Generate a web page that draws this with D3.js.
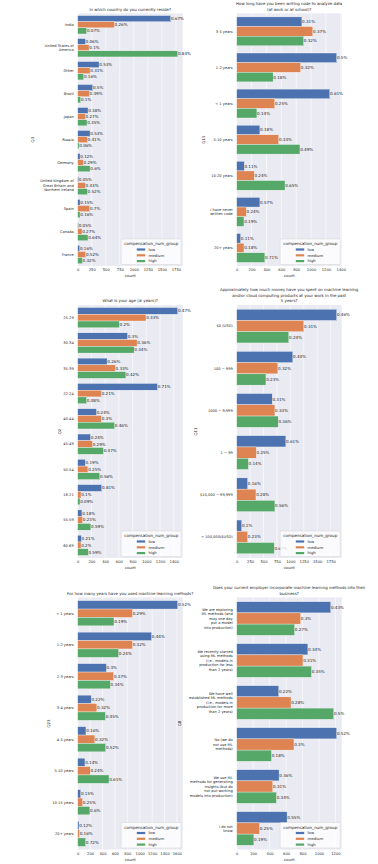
<!DOCTYPE html>
<html><head><meta charset="utf-8">
<script src="https://cdn.jsdelivr.net/npm/d3@7"></script>
<style>
body{margin:0;background:#fff}
svg{display:block}
text{font-family:"DejaVu Sans",sans-serif;fill:#262626}
</style>
</head><body><svg id="c" width="378" height="864"></svg>
<script>
// ---------- data ----------
const hues = ["low", "medium", "high"];
const hueColors = ["#4C72B0", "#DD8452", "#55A868"];

const q3Categories = ["India", "United States of\nAmerica", "Other", "Brazil", "Japan", "Russia", "Germany",
  "United Kingdom of\nGreat Britain and\nNorthern Ireland", "Spain", "Canada", "France"];
const q3Low = [1657, 137, 380, 267, 184, 220, 42, 16, 42, 14, 36];
const q3Medium = [653, 202, 220, 208, 137, 172, 101, 137, 214, 77, 143];
const q3High = [160, 1781, 107, 53, 166, 24, 220, 172, 42, 183, 83];
const q3LowPct = ["0.67%", "0.06%", "0.53%", "0.5%", "0.38%", "0.53%", "0.12%", "0.05%", "0.15%", "0.05%", "0.16%"];
const q3MediumPct = ["0.26%", "0.1%", "0.31%", "0.39%", "0.27%", "0.41%", "0.29%", "0.43%", "0.7%", "0.27%", "0.52%"];
const q3HighPct = ["0.07%", "0.84%", "0.16%", "0.1%", "0.35%", "0.06%", "0.6%", "0.52%", "0.16%", "0.64%", "0.32%"];
const q3Ticks = [0, 250, 500, 750, 1000, 1250, 1500, 1750];

const q15Categories = ["3-5 years", "1-2 years", "< 1 years", "5-10 years", "10-20 years", "I have never\nwritten code", "20+ years"];
const q15Low = [877, 1345, 1252, 312, 102, 312, 53];
const q15Medium = [1024, 860, 512, 566, 236, 129, 98];
const q15High = [900, 490, 272, 851, 650, 98, 379];
const q15LowPct = ["0.31%", "0.5%", "0.61%", "0.18%", "0.11%", "0.57%", "0.11%"];
const q15MediumPct = ["0.37%", "0.32%", "0.25%", "0.33%", "0.24%", "0.24%", "0.18%"];
const q15HighPct = ["0.32%", "0.18%", "0.14%", "0.49%", "0.65%", "0.19%", "0.71%"];
const q15Ticks = [0, 200, 400, 600, 800, 1000, 1200, 1400];

const q2Categories = ["25-29", "30-34", "35-39", "22-24", "40-44", "45-49", "50-54", "18-21", "55-59", "60-69"];
const q2Low = [1457, 726, 428, 1163, 274, 187, 111, 351, 62, 53];
const q2Medium = [995, 865, 548, 346, 346, 216, 149, 48, 72, 48];
const q2High = [606, 822, 702, 130, 538, 375, 322, 34, 192, 154];
const q2LowPct = ["0.47%", "0.3%", "0.26%", "0.71%", "0.24%", "0.24%", "0.19%", "0.81%", "0.18%", "0.21%"];
const q2MediumPct = ["0.33%", "0.36%", "0.33%", "0.21%", "0.3%", "0.29%", "0.25%", "0.1%", "0.23%", "0.2%"];
const q2HighPct = ["0.2%", "0.34%", "0.42%", "0.08%", "0.46%", "0.47%", "0.56%", "0.09%", "0.59%", "0.59%"];
const q2Ticks = [0, 200, 400, 600, 800, 1000, 1200, 1400];

const q11Categories = ["$0 (USD)", "100 − 999", "1000 − 9,999", "1 − 99", "$10,000 − 99,999", "> 100,000($USD)"];
const q11Low = [1863, 1046, 662, 916, 204, 93];
const q11Medium = [1250, 767, 712, 365, 359, 204];
const q11High = [971, 545, 773, 217, 712, 699];
const q11LowPct = ["0.46%", "0.44%", "0.31%", "0.61%", "0.16%", "0.1%"];
const q11MediumPct = ["0.31%", "0.32%", "0.33%", "0.25%", "0.28%", "0.23%"];
const q11HighPct = ["0.24%", "0.23%", "0.36%", "0.14%", "0.56%", "0.67%"];
const q11Ticks = [0, 250, 500, 750, 1000, 1250, 1500, 1750];

const q23Categories = ["< 1 years", "1-2 years", "2-3 years", "3-4 years", "4-5 years", "5-10 years", "10-15 years", "20+ years"];
const q23Low = [1612, 1191, 463, 218, 133, 117, 48, 21];
const q23Medium = [883, 883, 580, 309, 277, 202, 80, 28];
const q23High = [585, 660, 527, 447, 452, 505, 197, 128];
const q23LowPct = ["0.52%", "0.44%", "0.3%", "0.22%", "0.16%", "0.14%", "0.15%", "0.12%"];
const q23MediumPct = ["0.29%", "0.32%", "0.37%", "0.32%", "0.32%", "0.24%", "0.25%", "0.16%"];
const q23HighPct = ["0.19%", "0.24%", "0.34%", "0.45%", "0.52%", "0.61%", "0.6%", "0.72%"];
const q23Ticks = [0, 200, 400, 600, 800, 1000, 1200, 1400, 1600];

const q8Categories = [
  "We are exploring\nML methods (and\nmay one day\nput a model\ninto production)",
  "We recently started\nusing ML methods\n(i.e., models in\nproduction for less\nthan 2 years)",
  "We have well\nestablished ML methods\n(i.e., models in\nproduction for more\nthan 2 years)",
  "No (we do\nnot use ML\nmethods)",
  "We use ML\nmethods for generating\ninsights (but do\nnot put working\nmodels into production)",
  "I do not\nknow"];
const q8Low = [1143, 865, 511, 1215, 515, 612];
const q8Medium = [777, 805, 660, 696, 439, 278];
const q8High = [704, 909, 1179, 423, 483, 209];
const q8LowPct = ["0.43%", "0.34%", "0.22%", "0.52%", "0.36%", "0.55%"];
const q8MediumPct = ["0.3%", "0.31%", "0.28%", "0.3%", "0.31%", "0.25%"];
const q8HighPct = ["0.27%", "0.35%", "0.5%", "0.18%", "0.34%", "0.19%"];
const q8Ticks = [0, 200, 400, 600, 800, 1000, 1200];

// ---------- layout ----------
const cols = [[77.7, 182.7], [236.7, 341.7]];
const rows = [[13.3, 266], [305, 558], [597.5, 849.5]];

const panels = [
  {cats: q3Categories, vals: [q3Low, q3Medium, q3High], pct: [q3LowPct, q3MediumPct, q3HighPct], ticks: q3Ticks,
   title: ["In which country do you currently reside?"], ylabel: "Q3", col: 0, row: 0, ylabX: 32.3},
  {cats: q15Categories, vals: [q15Low, q15Medium, q15High], pct: [q15LowPct, q15MediumPct, q15HighPct], ticks: q15Ticks,
   title: ["How long have you been writing code to analyze data", "(at work or at school)?"], ylabel: "Q15", col: 1, row: 0, ylabX: 204},
  {cats: q2Categories, vals: [q2Low, q2Medium, q2High], pct: [q2LowPct, q2MediumPct, q2HighPct], ticks: q2Ticks,
   title: ["What is your age (# years)?"], ylabel: "Q2", col: 0, row: 1, ylabX: 60},
  {cats: q11Categories, vals: [q11Low, q11Medium, q11High], pct: [q11LowPct, q11MediumPct, q11HighPct], ticks: q11Ticks,
   title: ["Approximately how much money have you spent on machine learning", "and/or cloud computing products at your work in the past", "5 years?"], ylabel: "Q11", col: 1, row: 1, ylabX: 196},
  {cats: q23Categories, vals: [q23Low, q23Medium, q23High], pct: [q23LowPct, q23MediumPct, q23HighPct], ticks: q23Ticks,
   title: ["For how many years have you used machine learning methods?"], ylabel: "Q23", col: 0, row: 2, ylabX: 48.3},
  {cats: q8Categories, vals: [q8Low, q8Medium, q8High], pct: [q8LowPct, q8MediumPct, q8HighPct], ticks: q8Ticks,
   title: ["Does your current employer incorporate machine learning methods into their", "business?"], ylabel: "Q8", col: 1, row: 2, ylabX: 180}
];

const svg = d3.select("#c");
const gPlots = svg.append("g");
const gText = svg.append("g");

panels.forEach(p => {
  const [x0, x1] = cols[p.col];
  const [y0, y1] = rows[p.row];
  const maxV = d3.max(p.vals.flat());
  const x = d3.scaleLinear().domain([0, maxV * 1.05]).range([x0, x1]);
  const y = d3.scaleBand().domain(p.cats).range([y0, y1]).paddingInner(0).paddingOuter(0);
  const yh = d3.scaleBand().domain(hues).range([0.1 * y.bandwidth(), 0.9 * y.bandwidth()]);

  const g = gPlots.append("g");
  g.append("rect").attr("x", x0).attr("y", y0).attr("width", x1 - x0).attr("height", y1 - y0).attr("fill", "#EAEAF2");
  g.selectAll("line.grid").data(p.ticks).join("line").attr("class", "grid")
    .attr("x1", d => x(d)).attr("x2", d => x(d)).attr("y1", y0).attr("y2", y1)
    .attr("stroke", "#fff").attr("stroke-width", 0.6);

  hues.forEach((h, hi) => {
    const data = p.cats.map((c, i) => ({c, v: p.vals[hi][i], t: p.pct[hi][i]}));
    g.selectAll("rect.b" + hi).data(data).join("rect").attr("class", "b" + hi)
      .attr("x", x(0)).attr("y", d => y(d.c) + yh(h))
      .attr("width", d => x(d.v) - x(0)).attr("height", yh.bandwidth())
      .attr("fill", hueColors[hi]).attr("stroke", "#fff").attr("stroke-width", 0.35);
    g.selectAll("text.l" + hi).data(data).join("text").attr("class", "l" + hi)
      .attr("x", d => x(d.v) + 0.2).attr("y", d => y(d.c) + yh(h) + yh.bandwidth() / 2)
      .attr("dy", "0.35em").attr("font-size", 4.1).text(d => d.t);
  });

  // x axis
  const xa = g.append("g").attr("transform", `translate(0,${y1})`)
    .call(d3.axisBottom(x).tickValues(p.ticks).tickSize(0).tickPadding(2.6).tickFormat(d3.format("d")));
  xa.select(".domain").remove();
  xa.selectAll("text").attr("font-size", 3.7).attr("fill", "#262626").attr("font-family", '"DejaVu Sans",sans-serif');
  g.append("text").attr("x", (x0 + x1) / 2).attr("y", y1 + 10).attr("dy", "0.35em")
    .attr("text-anchor", "middle").attr("font-size", 3.9).text("count");

  // y axis
  const ya = g.append("g").attr("transform", `translate(${x0},0)`)
    .call(d3.axisLeft(y).tickSize(0).tickPadding(4));
  ya.select(".domain").remove();
  ya.selectAll("text").each(function(d) {
    const t = d3.select(this);
    const lines = d.split("\n");
    const lh = 4.4;
    t.text(null).attr("font-size", 3.6).attr("fill", "#262626").attr("font-family", '"DejaVu Sans",sans-serif').attr("dy", null);
    lines.forEach((ln, i) => {
      t.append("tspan").attr("x", -4).attr("y", (i - (lines.length - 1) / 2) * lh).attr("dy", "0.35em").text(ln);
    });
  });
  g.append("text").attr("transform", `translate(${p.ylabX},${(y0 + y1) / 2}) rotate(-90)`)
    .attr("text-anchor", "middle").attr("dy", "0.35em").attr("font-size", 3.9).text(p.ylabel);

  // title
  const nT = p.title.length;
  p.title.forEach((ln, i) => {
    gText.append("text").attr("x", (x0 + x1) / 2).attr("y", y0 - 4 - (nT - 1 - i) * 5.7)
      .attr("dy", "0.35em").attr("text-anchor", "middle").attr("font-size", 3.95).text(ln);
  });

  // legend
  const lw = 60, lhgt = 25.5;
  const lx = x1 - 1.5 - lw, ly = y1 - 1.5 - lhgt;
  const lg = g.append("g");
  lg.append("rect").attr("x", lx).attr("y", ly).attr("width", lw).attr("height", lhgt).attr("rx", 1)
    .attr("fill", "#fff").attr("fill-opacity", 0.8).attr("stroke", "#cccccc").attr("stroke-width", 0.4);
  lg.append("text").attr("x", lx + lw / 2).attr("y", ly + 5).attr("dy", "0.35em").attr("text-anchor", "middle")
    .attr("font-size", 4.1).text("compensation_num_group");
  hues.forEach((h, hi) => {
    const cy = ly + 10.5 + hi * 5.8;
    lg.append("rect").attr("x", lx + 15.6).attr("y", cy - 1.1).attr("width", 8.4).attr("height", 2.2).attr("fill", hueColors[hi]);
    lg.append("text").attr("x", lx + 27.3).attr("y", cy).attr("dy", "0.35em").attr("font-size", 3.8).text(h);
  });
});
</script>
</body></html>
